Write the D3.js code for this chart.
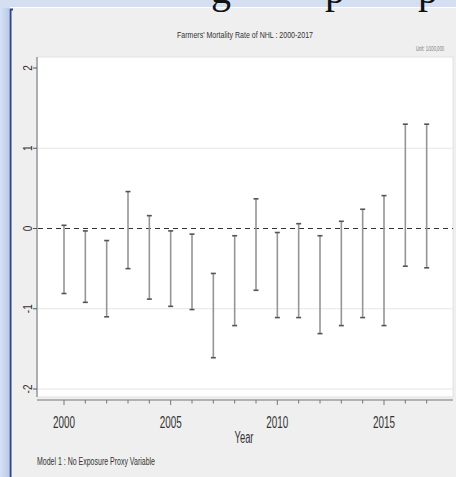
<!DOCTYPE html>
<html>
<head>
<meta charset="utf-8">
<script src="https://cdn.jsdelivr.net/npm/d3@7"></script>
<style>
  html, body { margin: 0; padding: 0; background: #ffffff; }
  svg { display: block; }
  .narrow { font-family: "Liberation Sans Narrow", "Arial Narrow", "Liberation Sans", Arial, sans-serif; }
</style>
</head>
<body>
<svg id="chart" width="456" height="477"></svg>
<script>
// Yearly interval estimates (lower / upper bound), per 100,000
const years = [2000, 2001, 2002, 2003, 2004, 2005, 2006, 2007, 2008,
               2009, 2010, 2011, 2012, 2013, 2014, 2015, 2016, 2017];
const upper = [0.04, -0.03, -0.15, 0.46, 0.16, -0.03, -0.07, -0.56, -0.09,
               0.37, -0.05, 0.06, -0.09, 0.09, 0.24, 0.41, 1.30, 1.30];
const lower = [-0.81, -0.92, -1.10, -0.50, -0.88, -0.97, -1.01, -1.61, -1.21,
               -0.77, -1.11, -1.11, -1.31, -1.21, -1.11, -1.21, -0.47, -0.49];
const yTicks = [-2, -1, 0, 1, 2];
const yGrid = [-2, -1, 1];
const xMajor = [2000, 2005, 2010, 2015];
const xMinor = d3.range(2000, 2018);

const titleText = "Farmers' Mortality Rate of NHL : 2000-2017";
const unitText = "Unit: 1/100,000";
const xTitle = "Year";
const noteText = "Model 1 : No Exposure Proxy Variable";

const svg = d3.select("#chart");

// slide frame around the graph
const defs = svg.append("defs");
const grad = defs.append("linearGradient").attr("id", "frameGrad")
  .attr("x1", 0).attr("x2", 1).attr("y1", 0).attr("y2", 0);
grad.append("stop").attr("offset", 0).attr("stop-color", "#d6e1f4");
grad.append("stop").attr("offset", 1).attr("stop-color", "#b9cbea");

svg.append("rect").attr("x", 0).attr("y", 0).attr("width", 456).attr("height", 7)
  .attr("fill", "#d4dff2");
svg.append("rect").attr("x", 0).attr("y", 0).attr("width", 9).attr("height", 477)
  .attr("fill", "url(#frameGrad)");

// graph region
svg.append("rect").attr("x", 10).attr("y", 8).attr("width", 446).attr("height", 469)
  .attr("fill", "#efefef");
svg.append("path").attr("d", "M13,9.5 H10.5 V477")
  .attr("fill", "none").attr("stroke", "#2d4684").attr("stroke-width", 2);

// lower part of the slide heading that runs above the graph
const head = svg.append("g").attr("font-family", "'Liberation Serif', 'Times New Roman', serif")
  .attr("font-size", 40).attr("fill", "#111");
[["g", 211], ["p", 325], ["p", 418]].forEach(([t, xp]) => {
  head.append("text").attr("x", xp).attr("y", 3).text(t);
});
svg.append("rect").attr("x", 0).attr("y", 0).attr("width", 10).attr("height", 8).attr("fill", "#d4dff2");

// plot region
const plot = { left: 37, right: 453, top: 57, bottom: 397 };
svg.append("rect")
  .attr("x", plot.left).attr("y", plot.top)
  .attr("width", plot.right - plot.left).attr("height", plot.bottom - plot.top)
  .attr("fill", "#ffffff").attr("stroke", "#e2e2e2").attr("stroke-width", 1);

const x = d3.scaleLinear().domain([2000, 2015]).range([64, 384]);
const y = d3.scaleLinear().domain([-2, 2]).range([389, 68]);

// gridlines
svg.append("g").selectAll("line").data(yGrid).join("line")
  .attr("x1", plot.left + 1).attr("x2", plot.right)
  .attr("y1", d => y(d)).attr("y2", d => y(d))
  .attr("stroke", "#e6e6e6").attr("stroke-width", 1.2);

// reference line at zero
svg.append("line")
  .attr("x1", plot.left + 1).attr("x2", plot.right)
  .attr("y1", y(0)).attr("y2", y(0))
  .attr("stroke", "#333").attr("stroke-width", 1.2)
  .attr("stroke-dasharray", "5,4");

// interval bars
const bars = svg.append("g");
years.forEach((yr, i) => {
  const cx = x(yr);
  bars.append("line")
    .attr("x1", cx).attr("x2", cx)
    .attr("y1", y(upper[i])).attr("y2", y(lower[i]))
    .attr("stroke", "#959595").attr("stroke-width", 1.6);
  [upper[i], lower[i]].forEach(v => {
    bars.append("line")
      .attr("x1", cx - 2.5).attr("x2", cx + 2.5)
      .attr("y1", y(v)).attr("y2", y(v))
      .attr("stroke", "#555").attr("stroke-width", 1.6);
  });
});

// y axis
svg.append("line").attr("x1", plot.left).attr("x2", plot.left)
  .attr("y1", plot.top).attr("y2", plot.bottom)
  .attr("stroke", "#9a9a9a").attr("stroke-width", 1.5);
const yAxis = svg.append("g");
yAxis.selectAll("line").data(yTicks).join("line")
  .attr("x1", plot.left - 4).attr("x2", plot.left)
  .attr("y1", d => y(d)).attr("y2", d => y(d))
  .attr("stroke", "#555").attr("stroke-width", 1);
yAxis.selectAll("text").data(yTicks).join("text")
  .attr("class", "narrow")
  .attr("transform", d => `translate(31.5,${y(d)}) rotate(-90) scale(0.8,1)`)
  .attr("text-anchor", "middle")
  .attr("font-size", 12.5).attr("fill", "#333")
  .text(d => d);

// x axis
const axisY = 400;
svg.append("line").attr("x1", plot.left).attr("x2", plot.right)
  .attr("y1", axisY).attr("y2", axisY)
  .attr("stroke", "#777").attr("stroke-width", 1.2);
const xAxis = svg.append("g");
xAxis.selectAll("line.minor").data(xMinor).join("line")
  .attr("class", "minor")
  .attr("x1", d => x(d)).attr("x2", d => x(d))
  .attr("y1", axisY).attr("y2", d => axisY + (xMajor.includes(d) ? 5 : 3.5))
  .attr("stroke", "#777").attr("stroke-width", 1);
xAxis.selectAll("text").data(xMajor).join("text")
  .attr("class", "narrow")
  .attr("x", d => x(d)).attr("y", 428)
  .attr("text-anchor", "middle")
  .attr("font-size", 16).attr("fill", "#333")
  .attr("textLength", 22).attr("lengthAdjust", "spacingAndGlyphs")
  .text(d => d);

svg.append("text").attr("class", "narrow")
  .attr("x", 244).attr("y", 443).attr("text-anchor", "middle")
  .attr("font-size", 16).attr("fill", "#333")
  .attr("textLength", 19).attr("lengthAdjust", "spacingAndGlyphs")
  .text(xTitle);

// titles and notes
svg.append("text").attr("class", "narrow")
  .attr("x", 245).attr("y", 38).attr("text-anchor", "middle")
  .attr("font-size", 9.5).attr("fill", "#333")
  .attr("textLength", 136).attr("lengthAdjust", "spacingAndGlyphs")
  .text(titleText);
svg.append("text").attr("class", "narrow")
  .attr("x", 444).attr("y", 51).attr("text-anchor", "end")
  .attr("font-size", 6.5).attr("fill", "#777")
  .attr("textLength", 28).attr("lengthAdjust", "spacingAndGlyphs")
  .text(unitText);
svg.append("text").attr("class", "narrow")
  .attr("x", 37).attr("y", 465)
  .attr("font-size", 10).attr("fill", "#333")
  .attr("textLength", 118).attr("lengthAdjust", "spacingAndGlyphs")
  .text(noteText);
</script>
</body>
</html>
